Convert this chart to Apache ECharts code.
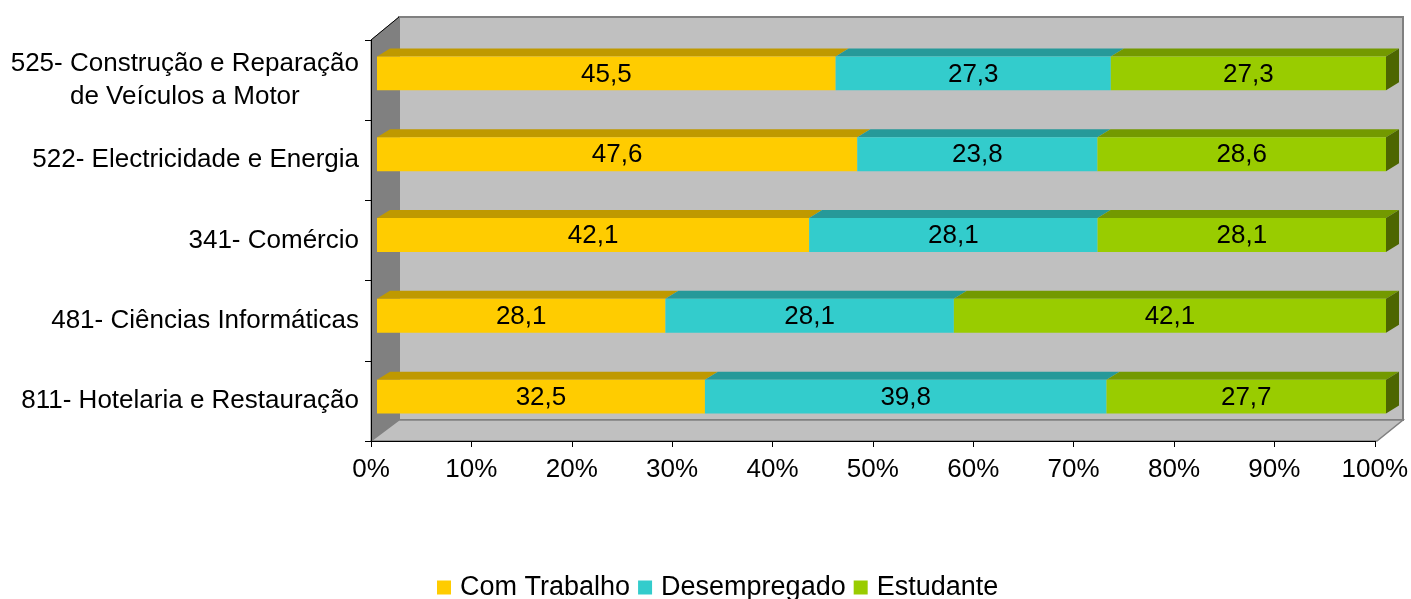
<!DOCTYPE html>
<html>
<head>
<meta charset="utf-8">
<script src="https://cdn.jsdelivr.net/npm/echarts@6/dist/echarts.min.js"></script>
<style>
html,body{margin:0;padding:0;background:#fff;}
#chart{width:1411px;height:599px;}
</style>
</head>
<body>
<div id="chart"></div>
<script>
// dados
var categories = ['525- Construção e Reparação\nde Veículos a Motor', '522- Electricidade e Energia', '341- Comércio', '481- Ciências Informáticas', '811- Hotelaria e Restauração'];
var seriesNames = ['Com Trabalho', 'Desempregado', 'Estudante'];
var comTrabalho = [45.5, 47.6, 42.1, 28.1, 32.5];
var desempregado = [27.3, 23.8, 28.1, 28.1, 39.8];
var estudante = [27.3, 28.6, 28.1, 42.1, 27.7];

var frontColors = ['#FFCC00', '#33CCCC', '#99CC00'];
var topColors = ['#BF9900', '#269999', '#739900'];
var sideColor = '#4D6600';
var DX = 13, DY = 8;
var FONT = '"Liberation Sans", Arial, sans-serif';
var FS = 26;

var myChart = echarts.init(document.getElementById('chart'));

window.addEventListener('resize', function () {
	myChart.resize();
});

function fmt(v) {
	return v.toFixed(1).replace('.', ',');
}

// empilhar a 100%
var all = [comTrabalho, desempregado, estudante];
var stacked = [[], [], []];
for (var c = 0; c < categories.length; c++) {
	var total = 0;
	for (var k = 0; k < all.length; k++) total += all[k][c];
	var cum = 0;
	for (var k = 0; k < all.length; k++) {
		var s = cum / total * 100;
		cum += all[k][c];
		var e = cum / total * 100;
		stacked[k].push([c, s, e, all[k][c]]);
	}
}

function makeRender(si) {
	return function (params, api) {
		var cat = api.value(0);
		var p0 = api.coord([api.value(1), cat]);
		var p1 = api.coord([api.value(2), cat]);
		var h = api.size([0, 1])[1] * 0.42;
		var x0 = p0[0], x1 = p1[0], y0 = p0[1] - h / 2, y1 = p0[1] + h / 2;
		var children = [
			{type: 'polygon', shape: {points: [[x0, y0], [x0 + DX, y0 - DY], [x1 + DX, y0 - DY], [x1, y0]]}, style: {fill: topColors[si]}},
			{type: 'rect', shape: {x: x0, y: y0, width: x1 - x0, height: h}, style: {fill: frontColors[si]}}
		];
		if (si === all.length - 1) {
			children.push({type: 'polygon', shape: {points: [[x1, y0], [x1 + DX, y0 - DY], [x1 + DX, y1 - DY], [x1, y1]]}, style: {fill: sideColor}});
		}
		children.push({
			type: 'text',
			style: {
				text: fmt(api.value(3)), x: (x0 + x1) / 2, y: (y0 + y1) / 2 + 1,
				align: 'center', verticalAlign: 'middle',
				fontSize: FS, fontFamily: FONT, fill: '#000'
			}
		});
		return {type: 'group', children: children};
	};
}

var series = [];
for (var k = 0; k < seriesNames.length; k++) {
	series.push({
		name: seriesNames[k],
		type: 'custom',
		xAxisIndex: 1,
		yAxisIndex: 1,
		itemStyle: {color: frontColors[k]},
		renderItem: makeRender(k),
		encode: {x: [1, 2], y: 0},
		data: stacked[k],
		z: 3
	});
}

var option = {
	backgroundColor: '#fff',
	animation: false,
	textStyle: {fontFamily: FONT},
	// paredes 3D
	graphic: [
		{type: 'polygon', z: -10, shape: {points: [[399, 17], [1403, 17], [1403, 420], [399, 420]]}, style: {fill: '#C0C0C0', stroke: '#808080', lineWidth: 2}},
		{type: 'polygon', z: -9, shape: {points: [[371, 40], [399, 17], [399, 420], [371, 441]]}, style: {fill: '#808080', stroke: '#808080', lineWidth: 1}},
		{type: 'polygon', z: -9, shape: {points: [[371, 441], [399, 420], [1403, 420], [1377, 441]]}, style: {fill: '#C0C0C0', stroke: '#808080', lineWidth: 1.5}},
		{type: 'polyline', z: -8, shape: {points: [[371, 40], [399, 17]]}, style: {stroke: '#000', lineWidth: 1}}
	],
	legend: {
		left: 432,
		top: 569,
		itemWidth: 14,
		itemHeight: 14,
		itemGap: 8,
		icon: 'rect',
		data: seriesNames,
		textStyle: {fontSize: 27, color: '#000', fontFamily: FONT, padding: [0, 0, 0, 4]}
	},
	grid: [
		{left: 371, top: 40, width: 1006, height: 401},
		{left: 377, top: 33, width: 1009, height: 404}
	],
	xAxis: [
		{
			gridIndex: 0, type: 'value', min: 0, max: 100, interval: 10, z: 5,
			axisLine: {show: true, lineStyle: {color: '#000', width: 1}},
			axisTick: {show: true, length: 6, lineStyle: {color: '#000'}},
			splitLine: {show: false},
			axisLabel: {formatter: '{value}%', fontSize: FS, color: '#000', fontFamily: FONT, margin: 16}
		},
		{gridIndex: 1, type: 'value', min: 0, max: 100, show: false}
	],
	yAxis: [
		{
			gridIndex: 0, type: 'category', inverse: true, data: categories, z: 5,
			axisLine: {show: true, lineStyle: {color: '#000', width: 1}},
			axisTick: {show: true, length: 6, lineStyle: {color: '#000'}},
			axisLabel: {
				margin: 12, color: '#000',
				formatter: function (v) {
					return v.split('\n').map(function (l) { return '{a|' + l + '}'; }).join('\n');
				},
				rich: {a: {align: 'center', fontSize: FS, lineHeight: 33, fontFamily: FONT, color: '#000'}}
			}
		},
		{gridIndex: 1, type: 'category', inverse: true, data: categories, show: false}
	],
	series: series
};

myChart.setOption(option, true);
</script>
</body>
</html>
